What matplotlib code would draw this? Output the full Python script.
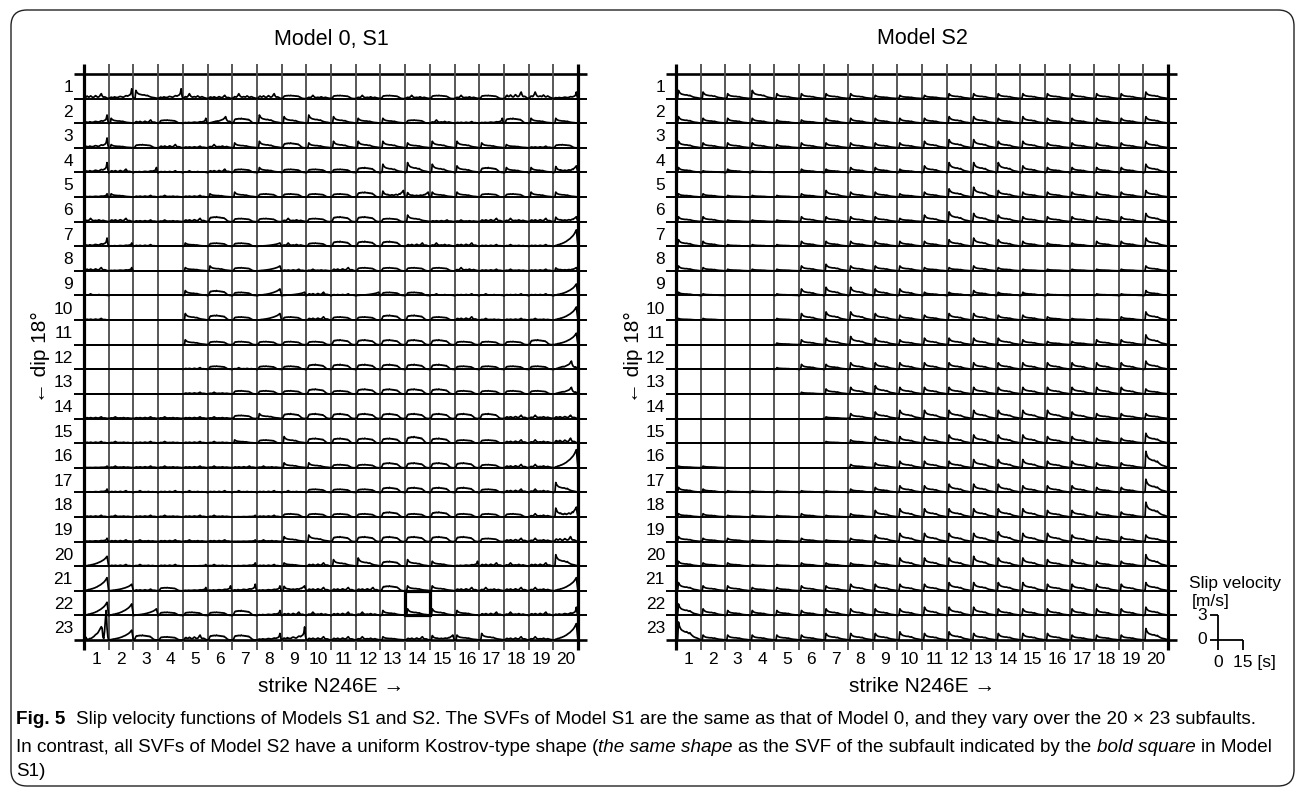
import numpy as np
import matplotlib
matplotlib.use("Agg")
import matplotlib.pyplot as plt
from matplotlib.patches import FancyBboxPatch, Rectangle
from matplotlib.transforms import IdentityTransform

plt.rcParams['font.family'] = ['Liberation Sans', 'DejaVu Sans']

# ---------------------------------------------------------------- data
strike_labels = [str(i) for i in range(1, 21)]
dip_labels = [str(i) for i in range(1, 24)]
panel_titles = ["Model 0, S1", "Model S2"]
x_label = "strike N246E \u2192"
y_label = "\u2190 dip 18\u00b0"

TIME_SPAN = 15.0      # seconds shown per subfault cell
VEL_SPAN = 3.0        # m/s shown per subfault cell
AMP_UNIT = 0.2        # m/s per amplitude digit in the grids below

# sample times of each SVF (s)
svf_time = np.linspace(0.0, 15.0, 31)

# normalised SVF shapes (peak = 1)
SHAPE_K = [0, 0, 0.05, 1.0, 0.8, 0.68, 0.6, 0.55, 0.52, 0.5, 0.47, 0.45, 0.44, 0.46, 0.42, 0.38,
           0.36, 0.4, 0.33, 0.28, 0.24, 0.2, 0.17, 0.15, 0.13, 0.12, 0.1, 0.08, 0.06, 0.03, 0]
SHAPE_B = [0, 0.05, 0.3, 0.7, 0.85, 0.8, 0.9, 0.85, 0.95, 0.9, 0.85, 1.0, 0.9, 0.85, 0.9, 0.8,
           0.85, 0.75, 0.8, 0.7, 0.75, 0.6, 0.5, 0.35, 0.2, 0.1, 0.05, 0.02, 0, 0, 0]
SHAPE_R = [0, 0, 0.02, 0.05, 0.05, 0.08, 0.1, 0.1, 0.12, 0.15, 0.15, 0.18, 0.2, 0.22, 0.25, 0.28,
           0.3, 0.35, 0.38, 0.42, 0.45, 0.5, 0.55, 0.6, 0.65, 0.72, 0.8, 0.9, 1.0, 0.5, 0]
SHAPE_E = [0, 0.05, 0.1, 0.15, 0.12, 0.1, 0.12, 0.18, 0.15, 0.12, 0.12, 0.12, 0.15, 0.2, 0.22, 0.2,
           0.18, 0.15, 0.15, 0.2, 0.25, 0.3, 0.28, 0.25, 0.3, 0.35, 0.4, 0.55, 1.0, 0.3, 0]
SHAPE_M = [0, 0.05, 0.2, 0.45, 0.5, 0.35, 0.3, 0.4, 0.55, 0.45, 0.3, 0.25, 0.3, 0.45, 0.6, 0.5,
           0.35, 0.3, 0.35, 0.5, 0.8, 1.0, 0.6, 0.35, 0.3, 0.35, 0.3, 0.2, 0.1, 0.05, 0]
SHAPE_N = [0, 0.1, 0.25, 0.4, 0.35, 0.3, 0.45, 0.7, 1.0, 0.7, 0.45, 0.35, 0.3, 0.35, 0.4, 0.35,
           0.3, 0.4, 0.55, 0.45, 0.3, 0.25, 0.3, 0.4, 0.35, 0.25, 0.2, 0.15, 0.1, 0.05, 0]
SHAPE_D = [0, 0, 0.05, 0.9, 0.7, 0.5, 0.45, 0.4, 0.35, 0.4, 0.3, 0.3, 0.25, 0.3, 0.35, 0.3,
           0.25, 0.3, 0.35, 0.4, 0.35, 0.3, 0.4, 0.5, 0.45, 0.6, 0.7, 0.85, 1.0, 0.4, 0]
SHAPE_P = [0, 0, 0.02, 0.05, 0.1, 0.12, 0.15, 0.2, 0.22, 0.25, 0.3, 0.3, 0.35, 0.3, 0.35, 0.4,
           0.45, 0.5, 0.55, 0.6, 0.7, 0.85, 1.0, 0.6, 0.4, 0.3, 0.25, 0.3, 0.2, 0.05, 0]
SHAPE_X = [0, 0.05, 0.1, 0.05, 0.02, 0.02, 0.03, 0.05, 0.05, 0.06, 0.08, 0.1, 0.12, 0.15, 0.18, 0.2,
           0.22, 0.25, 0.3, 0.35, 0.4, 0.45, 0.4, 0.1, 0.05, 0.3, 0.7, 1.0, 0.4, 0.1, 0]
SHAPES = {"K": SHAPE_K, "B": SHAPE_B, "R": SHAPE_R, "E": SHAPE_E, "M": SHAPE_M,
          "N": SHAPE_N, "D": SHAPE_D, "P": SHAPE_P, "X": SHAPE_X}

# Model 0 / S1: shape code + amplitude digit (base 36, x AMP_UNIT m/s), dip rows 1..23
S1_CELLS = [
    "M3 E6 K5 E6 N3 M2 N3 M3 B2 N2 B2 N2 B2 N2 B2 N2 B2 M4 N4 E4",
    "E5 K3 M2 B2 E3 P4 B3 K5 K4 K5 K4 K3 K3 B2 N2 M1 E3 B3 K3 K3",
    "E6 K2 B2 M2 M1 N2 K3 K4 B3 K3 K4 K4 K4 K3 K4 K4 K3 K2 M1 B2",
    "E6 M2 E3 M1 N1 M2 B2 K3 B2 B2 B2 B3 K5 K6 K5 K4 B3 K3 K3 D4",
    "E2 K2 M1 N1 M1 K2 K3 B2 B2 B2 B2 B3 D4 D3 K3 K3 B2 B2 K3 K3",
    "N2 M2 M1 N1 M2 B3 B2 B2 N2 B2 B3 B3 B2 K4 M1 N1 M2 N2 M2 D3",
    "E5 E2 M1 N0 K2 B2 B2 R2 N2 B2 B3 B3 B3 M2 N2 M2 M1 N1 M1 Ra",
    "M2 E2 N0 M0 K2 K3 B2 R3 M1 N1 M2 B2 B2 B2 B2 N2 M1 N1 M1 D2",
    "N1 M0 M0 N0 K3 B3 B2 R4 R2 M2 M1 R2 B2 B2 N1 M1 N1 M1 M1 R7",
    "M1 N0 M0 N0 K4 B3 B2 R4 B2 M2 B2 B2 B3 B3 B2 M2 N1 M1 N1 R8",
    "M0 N0 M0 N0 K3 B2 B2 B2 B2 B2 B3 B3 B3 B3 B3 B2 B2 B2 B3 R7",
    "M0 N0 M0 N0 M1 B2 N1 B2 B2 B3 B3 B3 B3 B3 B3 B2 B2 B2 B2 P5",
    "M0 N0 M0 N0 M1 N1 B2 B2 B2 B3 B2 B3 B3 B3 B3 B2 B2 B2 B2 P4",
    "M1 N1 M1 N1 M1 N1 B2 K3 B3 B3 B3 B3 B3 B3 B3 B3 B3 M2 N2 M2",
    "M1 N1 M1 N1 M1 N1 K2 B2 K4 B3 B3 B3 B3 B4 B3 B2 B2 M2 N2 M3",
    "E1 N1 M1 N1 M1 N1 M1 N1 K3 K3 B2 B2 B3 B3 B3 B3 B2 M2 N2 Rb",
    "E2 M1 N1 M1 N1 M1 N1 M1 N1 B2 B2 B2 B3 B3 B3 B3 B2 M2 N2 K6",
    "M1 N1 M1 N1 M1 N1 E1 M1 B2 B2 B2 B2 B3 B2 B3 B2 B2 B2 N2 D6",
    "E2 M1 N1 M1 N1 M1 E1 N1 K3 K4 B3 B3 B3 B3 B3 B3 B2 M2 N2 M3",
    "R6 M1 N1 M1 E1 N1 E2 M1 K2 M2 K4 K5 B3 K4 K3 E3 M2 N2 M2 K7",
    "R8 R4 M1 B2 E2 E3 E4 E3 D3 M2 M2 M2 B3 K3 K3 M2 N2 M2 N2 R8",
    "R8 R7 R4 B2 B2 B2 B3 E3 M2 N2 M2 N2 K3 K4 K4 K3 M2 N2 M2 E5",
    "Xi R6 B3 B2 M3 B3 B3 E4 E8 M2 M2 N2 K2 M2 D3 K3 K4 M2 N2 Ra",
]

# Model S2: uniform Kostrov shape, amplitude digit per subfault (base 36, x AMP_UNIT m/s)
S2_AMP = [
    "54353333222333333334",
    "43332233333443433334",
    "43332333334554433334",
    "31210223324666433335",
    "22111243323564333334",
    "33111333324654333335",
    "43111333333454322335",
    "32111343332232111113",
    "21001455442232210113",
    "11001455433443321125",
    "00001345434444322336",
    "00001334444444444445",
    "00000134544444444443",
    "00000013455555554333",
    "00000012444555544336",
    "1100000234445554433a",
    "32111112344555444338",
    "22111212455555544339",
    "32211212455556554334",
    "32211222355565544337",
    "53322334444555544445",
    "74333344445554444445",
    "b3333344454544443337",
]

BOLD_CELL = (22, 14)   # dip row, strike column of the bold square in Model S1

s1_cells = [[(tok[0], int(tok[1], 36)) for tok in row.split()] for row in S1_CELLS]
s2_cells = [[("K", int(ch, 36)) for ch in row] for row in S2_AMP]

# ---------------------------------------------------------------- figure
W, H = 1296, 789
fig = plt.figure(figsize=(W / 100, H / 100), dpi=100)
fig.patch.set_facecolor("white")

LABEL_FS = 12.5
TITLE_FS = 15.5


def draw_panel(ax, cells, title):
    n_dip, n_str = len(cells), len(cells[0])
    ax.set_xlim(0, n_str)
    ax.set_ylim(n_dip, 0)
    ax.axis("off")
    # horizontal baselines
    for r in range(n_dip + 1):
        lw = 1.9 if r in (0, n_dip) else 1.4
        ax.plot([-0.4, n_str + 0.37], [r, r], color="black", lw=lw,
                clip_on=False, zorder=2, solid_capstyle="butt")
    # vertical separators
    for c in range(n_str + 1):
        edge = c in (0, n_str)
        ax.plot([c, c], [-0.4, n_dip + 0.4], color="black" if edge else "#4a4a4a",
                lw=2.3 if edge else 1.3, clip_on=False, zorder=2 if not edge else 4,
                solid_capstyle="butt")
    # waveforms
    tt = svf_time / TIME_SPAN
    for r, row in enumerate(cells):
        for c, (shape, amp) in enumerate(row):
            v = np.asarray(SHAPES[shape]) * amp * AMP_UNIT
            ax.plot(c + tt, (r + 1) - v / VEL_SPAN, color="black", lw=1.25,
                    clip_on=False, zorder=3)
    # labels
    for r in range(n_dip):
        ax.text(-0.45, r + 0.55, dip_labels[r], ha="right", va="center",
                fontsize=LABEL_FS)
    for c in range(n_str):
        ax.text(c + 0.5, n_dip + 0.8, strike_labels[c], ha="center", va="center",
                fontsize=LABEL_FS)


ax1 = fig.add_axes([84 / W, 1 - 640 / H, 494 / W, 566 / H])
ax2 = fig.add_axes([676 / W, 1 - 640 / H, 492 / W, 566 / H])
draw_panel(ax1, s1_cells, panel_titles[0])
draw_panel(ax2, s2_cells, panel_titles[1])

# bold square
br, bc = BOLD_CELL
ax1.add_patch(Rectangle((bc - 1, br - 1), 1, 1, fill=False, lw=2.3,
                        edgecolor="black", zorder=5, clip_on=False))

# titles and axis labels
for cx, title in zip((331, 922), panel_titles):
    fig.text(cx / W, 1 - 39 / H, title, ha="center", va="center", fontsize=TITLE_FS)
    fig.text(cx / W, 1 - 686 / H, x_label, ha="center", va="center", fontsize=15)
for cx in (40, 633):
    fig.text(cx / W, 1 - 357 / H, y_label, ha="center", va="center",
             rotation=90, fontsize=15)

# scale bar in panel-2 data units (1 cell = 15 s x 3 m/s)
sx0, sy0 = 22.03, 23.0
sb_t, sb_v = 15.0, 3.0
kw = dict(color="black", lw=1.3, clip_on=False, solid_capstyle="butt")
ax2.plot([sx0, sx0], [sy0, sy0 - sb_v / VEL_SPAN], **kw)
ax2.plot([sx0 - 0.32, sx0 + sb_t / TIME_SPAN], [sy0, sy0], **kw)
ax2.plot([sx0 - 0.32, sx0], [sy0 - 1, sy0 - 1], **kw)
ax2.plot([sx0, sx0], [sy0, sy0 + 0.4], **kw)
ax2.plot([sx0 + 1, sx0 + 1], [sy0, sy0 + 0.4], **kw)
ax2.text(sx0 - 0.45, sy0 - 1, "3", ha="right", va="center", fontsize=LABEL_FS)
ax2.text(sx0 - 0.45, sy0, "0", ha="right", va="center", fontsize=LABEL_FS)
ax2.text(sx0, sy0 + 0.9, "0", ha="center", va="center", fontsize=LABEL_FS)
ax2.text(sx0 + 0.6, sy0 + 0.9, "15 [s]", ha="left", va="center", fontsize=LABEL_FS)
ax2.text(20.85, 20.7, "Slip velocity", ha="left", va="center", fontsize=LABEL_FS)
ax2.text(20.95, 21.42, "[m/s]", ha="left", va="center", fontsize=LABEL_FS)

# rounded outer frame (pixel coordinates)
frame = FancyBboxPatch((11, 3), 1283, 776, boxstyle="round,pad=0,rounding_size=16",
                       transform=IdentityTransform(), fill=False, lw=1.0,
                       edgecolor="#222222")
fig.patches.append(frame)

# caption
CAP_FAMILY = ["Liberation Sans", "DejaVu Sans"]
ren = fig.canvas.get_renderer()


def text_w(s, size, weight="normal", style="normal"):
    t = fig.text(0, 0, s, fontsize=size, fontweight=weight, fontstyle=style,
                 family=CAP_FAMILY)
    w = t.get_window_extent(ren).width
    t.remove()
    return w


cap1 = [("Fig. 5", "bold", "normal"), (2, None, None),
        ("Slip velocity functions of Models S1 and S2. The SVFs of Model S1 are the same as "
         "that of Model 0, and they vary over the 20 \u00d7 23 subfaults.", "normal", "normal")]
cap2 = [("In contrast, all SVFs of Model S2 have a uniform Kostrov-type shape (", "normal", "normal"),
        ("the same shape", "normal", "italic"), (1, None, None),
        ("as the SVF of the subfault indicated by the", "normal", "normal"), (1, None, None),
        ("bold square", "normal", "italic"), (1, None, None),
        ("in Model", "normal", "normal")]
cap3 = [("S1)", "normal", "normal")]


def line_width(segs, size):
    sp = text_w("a a", size) - text_w("aa", size)
    w = 0
    for s, wt, st in segs:
        w += sp * s if isinstance(s, int) else text_w(s, size, wt, st)
    return w


base = 12.0
widest = max(line_width(cap1, base), line_width(cap2, base))
cap_size = base * (1262 / widest)


def draw_line(segs, x_px, y_px, size):
    sp = text_w("a a", size) - text_w("aa", size)
    x = x_px
    for s, wt, st in segs:
        if isinstance(s, int):
            x += sp * s
            continue
        t = fig.text(x / W, 1 - y_px / H, s, fontsize=size, fontweight=wt, fontstyle=st,
                     family=CAP_FAMILY, ha="left", va="center")
        x += t.get_window_extent(ren).width


draw_line(cap1, 16, 719, cap_size)
draw_line(cap2, 16, 747, cap_size)
draw_line(cap3, 16, 772, cap_size)

fig.savefig("out.png", dpi=100, facecolor="white")
